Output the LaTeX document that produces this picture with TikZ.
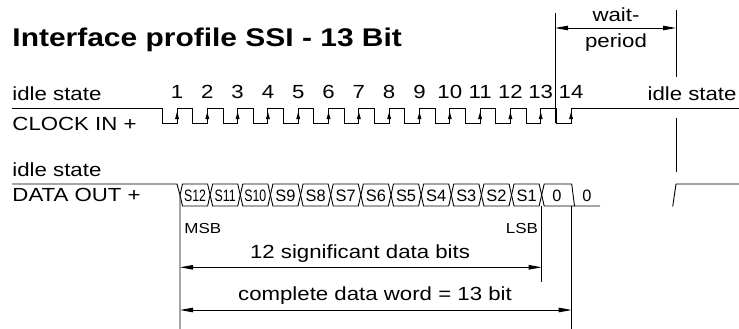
\documentclass[tikz,border=0pt]{standalone}
\usepackage{fontspec}
\setmainfont[FakeStretch=1.17]{Liberation Sans}
\usetikzlibrary{arrows.meta}
\begin{document}
\begin{tikzpicture}[x=1pt,y=-1pt,line width=0.9pt,
  lbl/.style={font=\fontsize{19}{19}\selectfont,inner sep=0pt,anchor=base west},
  lblr/.style={font=\fontsize{19}{19}\selectfont,inner sep=0pt,anchor=base east},
  lblc/.style={font=\fontsize{19}{19}\selectfont,inner sep=0pt,anchor=base},
  small/.style={font=\fontsize{16.5}{16.5}\selectfont,inner sep=0pt,anchor=base},
  dim/.style={{Triangle[length=13pt,width=4.5pt]}-{Triangle[length=13pt,width=4.5pt]}}]
\useasboundingbox (0,0) rectangle (739,329);
% title
\node[anchor=base west,inner sep=0pt,font=\bfseries\fontsize{25.6}{26}\selectfont] (title) at (12,46.7) {Interface profile SSI - 13 Bit};
% left labels
\node[lbl] (idle1) at (12,100.5) {idle state};
\node[lbl] (clk) at (12,130) {CLOCK IN +};
\node[lbl] (idle2) at (12,176.7) {idle state};
\node[lbl] (dat) at (12,201.7) {DATA OUT +};
\node[lblr] (idle3) at (737,100) {idle state};
% clock waveform
\draw (12,108.5) -- (162.7,108.5) -- (162.7,123)
  foreach \k in {0,...,12} { -- ({177+30.31*\k},123) -- ({177+30.31*\k},108.5) -- ({192.7+30.31*\k},108.5) -- ({192.7+30.31*\k},123) }
  -- (571,123) -- (571,108.5) -- (739,108.5);
\foreach \k in {1,...,14} {
  \fill ({177+30.31*(\k-1)},112) -- ({175+30.31*(\k-1)},119) -- ({179+30.31*(\k-1)},119) -- cycle;
  \node[lblc] (n\k) at ({177+30.31*(\k-1)},99) {\k};
}
% wait period
\coordinate (wl) at (555,13);
\coordinate (wlb) at (555,123);
\coordinate (wr) at (676,10);
\draw (wl) -- (wlb);
\draw (wr) -- (676,77);
\draw (676,118) -- (676,172);
\draw[dim] (555,28) -- (676,28);
\node[lblc] (wait) at (616,21.7) {wait-};
\node[lblc] (period) at (616,48) {period};
% data waveform
\draw (12,184) -- (177,184) -- (180,195) -- (180,329);
\foreach \i/\t/\s in {0/S12/0.64,1/S11/0.64,2/S10/0.64,3/S9/0.85,4/S8/0.85,5/S7/0.85,6/S6/0.85,7/S5/0.85,8/S4/0.85,9/S3/0.85,10/S2/0.85,11/S1/0.85} {
  \draw ({180+30.14*\i},195) -- ({182.5+30.14*\i},184) -- ({207.6+30.14*\i},184) -- ({210.14+30.14*\i},195) -- ({207.6+30.14*\i},206) -- ({182.5+30.14*\i},206) -- cycle;
  \node[small] at ({195.07+30.14*\i},201) {\scalebox{\s}[1]{\t}};
}
\draw (541.7,195) -- (544.2,184) -- (571.7,184) -- (574.5,206) -- (600,206);
\draw (541.7,195) -- (544.2,206) -- (574.5,206);
\node[small] (z1) at (557,201) {\scalebox{0.85}[1]{0}};
\node[small] (z2) at (587,201) {\scalebox{0.85}[1]{0}};
\draw (672.7,206.5) -- (676,184) -- (739,184);
% dimension lines
\draw (541.7,206) -- (541.7,281.7);
\draw (571.7,206) -- (571.7,329);
\node[anchor=base west,inner sep=0pt,font=\fontsize{14.5}{15}\selectfont] (msb) at (184,233.3) {MSB};
\node[anchor=base east,inner sep=0pt,font=\fontsize{14.5}{15}\selectfont] (lsb) at (538.5,233.3) {LSB};
\node[lblc] (sig) at (360,258.3) {12 significant data bits};
\draw[dim] (180,267.3) -- (541.7,267.3);
\node[lblc] (word) at (375,300.7) {complete data word = 13 bit};
\draw[dim] (180,310) -- (571.7,310);
\end{tikzpicture}
\end{document}
